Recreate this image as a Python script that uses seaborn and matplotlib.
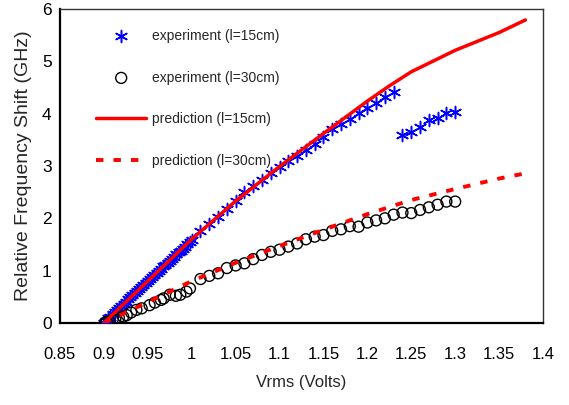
import matplotlib
matplotlib.use("Agg")
import matplotlib.pyplot as plt
import seaborn as sns

# experiment, l = 15 cm (Vrms, GHz)
exp15_v = [0.900, 0.9025, 0.905, 0.9075, 0.910, 0.9125, 0.915, 0.9175, 0.920, 0.9225,
           0.925, 0.9275, 0.930, 0.9325, 0.935, 0.9375, 0.940, 0.9425, 0.945, 0.9475,
           0.950, 0.9525, 0.955, 0.9575, 0.960, 0.9625, 0.965, 0.9675, 0.970, 0.9725,
           0.975, 0.9775, 0.980, 0.9825, 0.985, 0.9875, 0.990, 0.9925, 0.995, 0.9975,
           1.000, 1.01, 1.02, 1.03, 1.04, 1.05, 1.06, 1.07, 1.08, 1.09,
           1.10, 1.11, 1.12, 1.13, 1.14, 1.15, 1.16, 1.17, 1.18, 1.19,
           1.20, 1.21, 1.22, 1.23,
           1.24, 1.25, 1.26, 1.27, 1.28, 1.29, 1.30]
exp15_f = [0.00, 0.04, 0.09, 0.12, 0.17, 0.21, 0.25, 0.29, 0.33, 0.37,
           0.41, 0.46, 0.49, 0.53, 0.57, 0.61, 0.65, 0.69, 0.73, 0.77,
           0.81, 0.84, 0.88, 0.92, 0.96, 1.00, 1.04, 1.08, 1.11, 1.15,
           1.19, 1.23, 1.27, 1.31, 1.35, 1.38, 1.42, 1.46, 1.50, 1.54,
           1.59, 1.76, 1.90, 2.02, 2.17, 2.33, 2.50, 2.62, 2.74, 2.86,
           2.99, 3.09, 3.19, 3.30, 3.42, 3.55, 3.70, 3.80, 3.90, 4.02,
           4.10, 4.20, 4.32, 4.41,
           3.59, 3.65, 3.75, 3.88, 3.91, 4.01, 4.04]

# experiment, l = 30 cm
exp30_v = [0.901, 0.903, 0.906, 0.910, 0.913, 0.917, 0.922, 0.926, 0.931, 0.937,
           0.943, 0.952, 0.958, 0.965, 0.968, 0.975, 0.982, 0.987, 0.994, 0.998,
           1.01, 1.02, 1.03, 1.04, 1.05, 1.06, 1.07, 1.08, 1.09, 1.10,
           1.11, 1.12, 1.13, 1.14, 1.15, 1.16, 1.17, 1.18, 1.19, 1.20,
           1.21, 1.22, 1.23, 1.24, 1.25, 1.26, 1.27, 1.28, 1.29, 1.30]
exp30_f = [0.00, 0.02, 0.04, 0.06, 0.07, 0.10, 0.12, 0.15, 0.20, 0.25,
           0.28, 0.34, 0.39, 0.44, 0.47, 0.54, 0.52, 0.54, 0.60, 0.66,
           0.84, 0.90, 0.95, 1.05, 1.10, 1.14, 1.22, 1.30, 1.36, 1.40,
           1.46, 1.52, 1.60, 1.65, 1.68, 1.76, 1.79, 1.85, 1.84, 1.92,
           1.96, 2.00, 2.07, 2.11, 2.10, 2.16, 2.21, 2.26, 2.32, 2.32]

# predictions
pred15_v = [0.90, 0.95, 1.00, 1.05, 1.10, 1.15, 1.20, 1.225, 1.25, 1.30, 1.35, 1.38]
pred15_f = [0.00, 0.80, 1.60, 2.33, 2.99, 3.62, 4.24, 4.53, 4.80, 5.21, 5.55, 5.79]
pred30_v = [0.90, 0.95, 1.00, 1.05, 1.10, 1.15, 1.20, 1.25, 1.30, 1.35, 1.38]
pred30_f = [0.00, 0.40, 0.80, 1.15, 1.47, 1.78, 2.08, 2.35, 2.56, 2.76, 2.86]

x_ticks = [0.85, 0.9, 0.95, 1, 1.05, 1.1, 1.15, 1.2, 1.25, 1.3, 1.35, 1.4]
x_labels = ['0.85', '0.9', '0.95', '1', '1.05', '1.1', '1.15', '1.2', '1.25', '1.3', '1.35', '1.4']

sns.set_style('white')
plt.rcParams['font.family'] = ['Liberation Sans', 'DejaVu Sans']

fig = plt.figure(figsize=(5.69, 4.05), dpi=100)
ax = fig.add_axes([0.1054, 0.2025, 0.8489, 0.7753])

sns.scatterplot(x=exp15_v, y=exp15_f, marker=(6, 2, 0), s=75, color='#0000ff',
                linewidth=1.1, label='experiment (l=15cm)', ax=ax, zorder=3)
sns.scatterplot(x=exp30_v, y=exp30_f, marker='o', s=62, facecolors='none',
                edgecolor='black', linewidth=1.0, label='experiment (l=30cm)', ax=ax, zorder=3)
sns.lineplot(x=pred15_v, y=pred15_f, color='#ff0000', linewidth=2.5, sort=False,
             estimator=None, label='prediction (l=15cm)', ax=ax, zorder=4)
sns.lineplot(x=pred30_v, y=pred30_f, color='#ff0000', linewidth=2.8, sort=False,
             estimator=None, linestyle=(0, (1.9, 2.6)), label='prediction (l=30cm)', ax=ax, zorder=4)

ax.set_xlim(0.85, 1.4)
ax.set_ylim(0, 6)
ax.set_xticks(x_ticks)
ax.set_xticklabels(x_labels)
ax.set_yticks([0, 1, 2, 3, 4, 5, 6])
ax.tick_params(axis='x', direction='in', length=5, width=1, pad=17, labelsize=12, colors='black')
ax.tick_params(axis='y', direction='in', length=5, width=1, pad=6, labelsize=12.5, colors='black')
ax.set_xlabel('Vrms (Volts)', fontsize=12, labelpad=10)
ax.set_ylabel('Relative Frequency Shift (GHz)', fontsize=14, labelpad=7)

for side in ['bottom', 'left']:
    ax.spines[side].set_color('black')
    ax.spines[side].set_linewidth(1.6)
for side in ['top', 'right']:
    ax.spines[side].set_color('#333333')
    ax.spines[side].set_linewidth(1.0)

leg = ax.legend(loc='upper left', bbox_to_anchor=(0.075, 0.937), frameon=False,
                fontsize=10, handlelength=3.6, handletextpad=0.4, labelspacing=2.0,
                borderpad=0, borderaxespad=0)

plt.savefig('out.png', dpi=100)
